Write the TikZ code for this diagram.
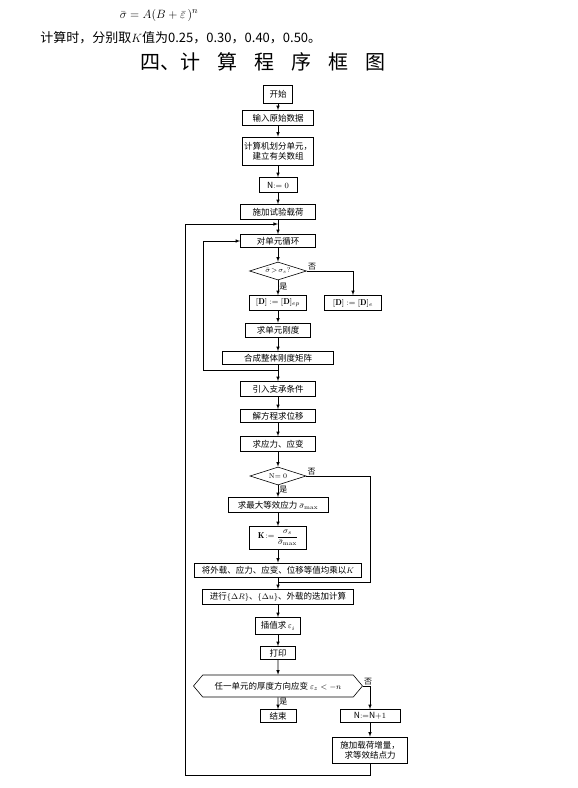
\documentclass[tikz,border=0pt]{standalone}
\usepackage{amsmath,amssymb}
\usepackage{fontspec}
\newfontfamily\cjk{Noto Sans CJK SC}
\usetikzlibrary{shapes,arrows,positioning,calc}

\begin{document}
\begin{tikzpicture}[
    x=1pt, y=-1pt,
    box/.style={draw, rectangle, inner sep=1pt, align=center, font=\cjk\fontsize{8.5}{10}\selectfont},
    decision/.style={draw, diamond, aspect=3, inner sep=0pt, font=\fontsize{7}{8}\selectfont},
    tag/.style={inner sep=1pt, font=\cjk\fontsize{8}{9}\selectfont},
    line width=0.6pt,
    >=latex
]
    \useasboundingbox (0,0) rectangle (578,788);

    % heading text
    \node (formula) at (159,15) {\fontsize{13}{15}\selectfont $\bar{\sigma}=A(B+\bar{\varepsilon}\,)^n$};
    \node[anchor=west, inner sep=0pt] (kvalues) at (40,38)
        {\cjk\fontsize{13}{15}\selectfont 计算时，分别取$K$值为0.25，0.30，0.40，0.50。};
    \node (title) at (263,62)
        {\cjk\fontsize{20}{22}\selectfont 四、计\hspace{17pt}算\hspace{17pt}程\hspace{17pt}序\hspace{17pt}框\hspace{17pt}图};

    % main column
    \node[box, minimum width=29, minimum height=18] (start) at (278,94) {开始};
    \node[box, minimum width=71, minimum height=15] (input) at (278,118) {输入原始数据};
    \node[box, minimum width=71, minimum height=28] (divide) at (278,151) {计算机划分单元，\\建立有关数组};
    \node[box, minimum width=38, minimum height=15] (n0) at (278,185) {N$:=0$};
    \node[box, minimum width=75, minimum height=15] (trial) at (278,212) {施加试验载荷};
    \node[box, minimum width=75, minimum height=13] (loop) at (278,241) {对单元循环};
    \node[decision, minimum width=57, minimum height=18] (d1) at (278,271) {$\bar\sigma\!>\!\sigma_s$?};
    \node[box, minimum width=57, minimum height=15] (dep) at (278,303) {$[\mathbf{D}]:=[\mathbf{D}]_{ep}$};
    \node[box, minimum width=57, minimum height=15] (de) at (353,303) {$[\mathbf{D}]:=[\mathbf{D}]_{e}$};
    \node[box, minimum width=65, minimum height=14] (kel) at (278,330) {求单元刚度};
    \node[box, minimum width=111, minimum height=13] (kglob) at (278,358) {合成整体刚度矩阵};
    \node[box, minimum width=75, minimum height=15] (bc) at (278,389) {引入支承条件};
    \node[box, minimum width=75, minimum height=13] (solve) at (278,416) {解方程求位移};
    \node[box, minimum width=75, minimum height=15] (stress) at (278,444) {求应力、应变};
    \node[decision, minimum width=56, minimum height=18] (d2) at (278,476) {N$=0$};
    \node[box, minimum width=100, minimum height=15] (smax) at (278,505) {求最大等效应力\ $\bar{\sigma}_{\max}$};
    \node[box, minimum width=57, minimum height=23] (kfac) at (278,538) {$\mathbf{K}\!:=\dfrac{\sigma_s}{\bar\sigma_{\max}}$};
    \node[box, minimum width=167, minimum height=14] (scale) at (278,570) {将外载、应力、应变、位移等值均乘以$K$};
    \node[box, minimum width=151, minimum height=15] (accum) at (278,597) {进行$\{\Delta R\}$、$\{\Delta u\}$、外载的迭加计算};
    \node[box, minimum width=45, minimum height=17] (interp) at (278,626) {插值求\,$\varepsilon_i$};
    \node[box, minimum width=35, minimum height=13] (print) at (278,653) {打印};
    \node[box, signal, signal to=west and east, signal pointer angle=100,
          minimum width=169, minimum height=22] (check) at (278,686)
          {任一单元的厚度方向应变\ $\varepsilon_z<-n$};
    \node[box, minimum width=36, minimum height=13] (finish) at (278,716) {结束};
    \node[box, minimum width=60, minimum height=13] (nn) at (370,716) {N$:=$N$+1$};
    \node[box, minimum width=75, minimum height=26] (inc) at (370,750) {施加载荷增量，\\求等效结点力};

    % junctions
    \coordinate (j0) at (278,224);
    \coordinate (j1) at (278,370);
    \coordinate (j2) at (278,582);
    \coordinate (r2) at (370,582);
    \coordinate (outer) at (185,775);

    % connectors
    \draw[->] (start) -- (input);
    \draw[->] (input) -- (divide);
    \draw[->] (divide) -- (n0);
    \draw[->] (n0) -- (trial);
    \draw[->] (trial) -- (loop);
    \draw[->] (loop) -- (d1);
    \draw[->] (d1) -- node[tag, right, pos=0.45] {是} (dep);
    \draw[->] (d1.east) node[tag, above right] {否} -| (de.north);
    \draw[->] (dep) -- (kel);
    \draw[->] (kel) -- (kglob);
    \draw[->] (kglob) -- (bc);
    \draw[->] (j1) -- ++(-75,0) |- (loop.west);
    \draw[->] (bc) -- (solve);
    \draw[->] (solve) -- (stress);
    \draw[->] (stress) -- (d2);
    \draw[->] (d2) -- node[tag, right, pos=0.4] {是} (smax);
    \draw (d2.east) node[tag, above right] {否} -| (r2) -- (j2);
    \draw[->] (smax) -- (kfac);
    \draw[->] (kfac) -- (scale);
    \draw[->] (scale) -- (accum);
    \draw[->] (accum) -- (interp);
    \draw[->] (interp) -- (print);
    \draw[->] (print) -- (check);
    \draw[->] (check) -- node[tag, right, pos=0.4] {是} (finish);
    \draw[->] (check.east) node[tag, above right] {否} -| (nn.north);
    \draw[->] (nn) -- (inc);
    \draw[->] (inc.south) |- (outer) |- (j0);
\end{tikzpicture}
\end{document}
